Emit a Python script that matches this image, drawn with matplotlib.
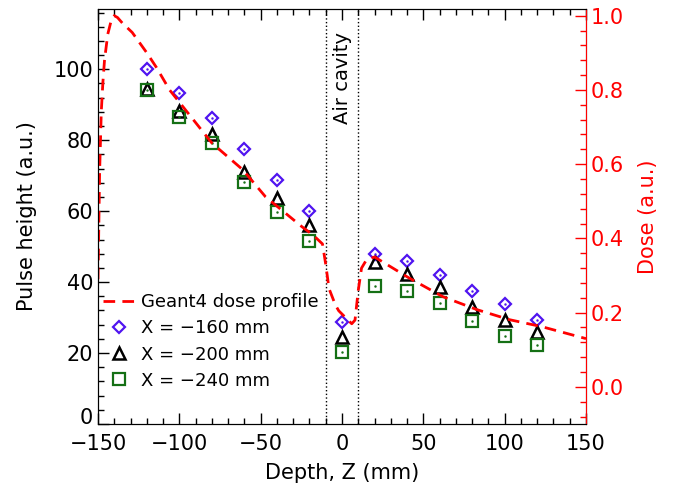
import numpy as np
import matplotlib.pyplot as plt
import matplotlib.transforms as mtransforms
from matplotlib.ticker import MultipleLocator

plt.rcParams['font.family'] = ['DejaVu Sans']

# Measured pulse heights
depth = [-120, -100, -80, -60, -40, -20, 0, 20, 40, 60, 80, 100, 120]
ph_160 = [100.0, 93.3, 86.2, 77.5, 68.8, 60.1, 28.8, 47.9, 45.9, 42.0, 37.5, 33.8, 29.3]
ph_200 = [94.4, 88.3, 81.7, 71.0, 63.7, 56.0, 24.5, 45.7, 42.3, 38.7, 33.0, 29.3, 26.0]
ph_240 = [94.1, 86.5, 79.2, 68.2, 59.7, 51.6, 20.3, 39.0, 37.5, 34.0, 29.1, 24.8, 22.3]

# Geant4 dose profile
dose_z = [-150, -149, -148, -147, -146, -144, -142, -140, -138, -135, -129, -120,
          -114, -106, -100, -80, -61, -47, -24.5, -18, -12, -10, -8, -4, -2, 6,
          8, 10, 12, 15, 20, 41, 62, 83, 103, 123, 150]
dose = [0.29, 0.58, 0.74, 0.82, 0.88, 0.95, 0.985, 1.0, 0.995, 0.98, 0.955, 0.90,
        0.86, 0.80, 0.767, 0.657, 0.585, 0.512, 0.431, 0.41, 0.385, 0.33, 0.265,
        0.22, 0.205, 0.17, 0.18, 0.26, 0.32, 0.342, 0.35, 0.294, 0.243, 0.208,
        0.181, 0.162, 0.13]

fig = plt.figure(figsize=(6.74, 4.88), dpi=100)
ax = fig.add_axes([98 / 674, 1 - 424 / 488, 488 / 674, 415 / 488])
ax2 = ax.twinx()

# Air cavity boundaries
for xc in (-10, 10):
    ax.axvline(xc, color='black', ls=':', lw=1.0)
ax.text(0, 97.5, 'Air cavity', rotation=90, ha='center', va='center', fontsize=14)

line, = ax2.plot(dose_z, dose, color='red', lw=2, dashes=(4.2, 2.6),
                 label='Geant4 dose profile')

h1, = ax.plot(depth, ph_160, 'D', ms=6.5, mfc='none', mec='#5014F0', mew=1.6,
              label='X = \u2212160 mm')
h2, = ax.plot(depth, ph_200, '^', ms=8, mfc='none', mec='black', mew=1.8,
              label='X = \u2212200 mm')
h3, = ax.plot(depth, ph_240, 's', ms=8, mfc='none', mec='#157015', mew=1.6,
              label='X = \u2212240 mm')
# small centre dots
ax.plot(depth, ph_160, '.', ms=1.5, color='#5014F0')
ax.plot(depth, ph_240, '.', ms=1.5, color='#157015')

ax.set_xlim(-150, 150)
ax.set_ylim(0, 117)
ax2.set_ylim(-0.1, 1.018)

ax.xaxis.set_major_locator(MultipleLocator(50))
ax.xaxis.set_minor_locator(MultipleLocator(10))
ax.yaxis.set_major_locator(MultipleLocator(20))
ax.yaxis.set_minor_locator(MultipleLocator(4))
ax2.yaxis.set_major_locator(MultipleLocator(0.2))
ax2.yaxis.set_minor_locator(MultipleLocator(0.04))
ax2.yaxis.set_major_formatter(plt.FuncFormatter(lambda v, p: f'{v:.1f}'))

ax.tick_params(which='both', direction='in', top=True, right=False, labelsize=15)
ax.tick_params(which='major', length=8, width=1)
ax.tick_params(which='minor', length=4, width=1)
ax.tick_params(axis='x', pad=7)
ax2.tick_params(which='both', direction='in', colors='red', labelsize=15)
ax2.tick_params(which='major', length=8, width=1)
ax2.tick_params(which='minor', length=4, width=1)
ax2.spines['right'].set_color('red')

ax.set_xlabel('Depth, Z (mm)', fontsize=15, labelpad=7)
ax.set_ylabel('Pulse height (a.u.)', fontsize=15, labelpad=12)
ax2.set_ylabel('Dose (a.u.)', fontsize=15, color='red', labelpad=10)

ax.legend([line, h1, h2, h3], [l.get_label() for l in (line, h1, h2, h3)],
          loc='upper left', bbox_to_anchor=(0.01, 0.315), frameon=False,
          fontsize=13, handlelength=1.8, handletextpad=0.3, labelspacing=0.45,
          borderpad=0, borderaxespad=0)

# raise the "0" label a little, as in the original
fig.canvas.draw()
for lab in ax.get_yticklabels():
    if lab.get_text() == '0':
        lab.set_transform(lab.get_transform() +
                          mtransforms.ScaledTranslation(0, 6 / 72, fig.dpi_scale_trans))

fig.savefig('out.png', dpi=100)
